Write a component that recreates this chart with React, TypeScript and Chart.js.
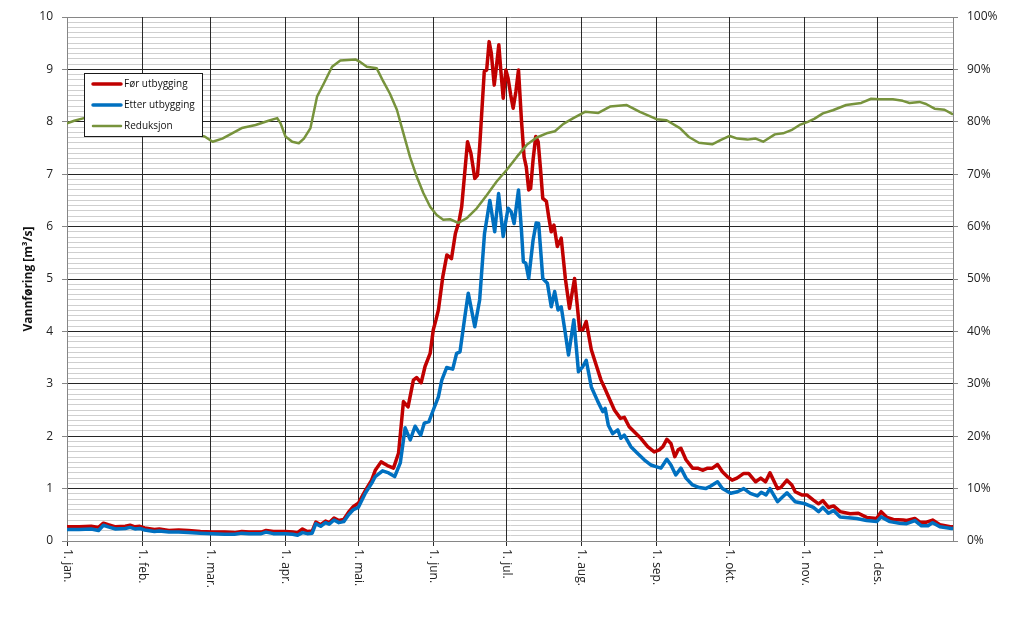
import { useEffect, useRef } from 'react';
import { Chart, registerables } from 'chart.js';

Chart.register(...registerables);

// ---- Axis / category data ----
const MONTH_DAYS = [0, 31, 59, 90, 120, 151, 181, 212, 243, 273, 304, 334];
const MONTH_LABELS = ['1. jan.', '1. feb.', '1. mar.', '1. apr.', '1. mai.', '1. jun.', '1. jul.', '1. aug.', '1. sep.', '1. okt.', '1. nov.', '1. des.'];
const Y_MAX = 10;
const Y_MINOR_STEP = 0.1;
const Y2_MAX = 100;
const Y2_STEP = 10;

const SERIES_NAMES = ['Før utbygging', 'Etter utbygging', 'Reduksjon'];
const Y_TITLE = 'Vannføring [m³/s]';

// ---- Før utbygging (m3/s) ----
const FOR_DAYS = [0, 5, 10, 13, 15, 17, 20, 24, 26, 28, 30, 32, 36, 38, 42, 46, 50, 55, 60, 65, 69, 72, 75, 80, 82, 85, 90, 93, 95, 97, 99, 101, 102.5, 104.5, 106.5, 108, 110, 112, 114, 116, 118, 120, 123, 125.5, 127, 129.4, 132, 134.5, 136.6, 138.6, 140.5, 142.7, 144, 145.9, 147.5, 149.6, 150.9, 152, 153, 154.8, 156.5, 158.4, 160, 161.5, 162.6, 165, 166.4, 168, 169.1, 170, 171.9, 172.9, 173.9, 174.8, 176, 176.9, 177.9, 178.7, 179.7, 180.8, 181.7, 182.8, 183.8, 184.9, 186, 187.2, 188.3, 189.2, 190.2, 191, 192, 193.1, 194.1, 195.1, 196, 197.5, 198.4, 199.5, 200.6, 202, 203.6, 205.3, 207, 209.1, 211.2, 212.5, 213.9, 216, 218, 220, 221.4, 223.4, 225.5, 228, 229.6, 231.6, 234.4, 236.4, 239.2, 241.9, 244, 245.5, 247.1, 248.8, 250.4, 251.8, 252.9, 255, 257.7, 259.8, 261.8, 263.9, 265.9, 268, 270, 272, 274, 276, 278.8, 280.8, 283.7, 285.8, 287.8, 289.6, 292.7, 294, 296.6, 298.6, 300, 302.7, 304.8, 307.5, 309.6, 311.4, 313.7, 315.8, 318.5, 322.6, 326, 329.4, 333.6, 335.4, 337.8, 340.4, 344.5, 345.9, 349.3, 351.4, 354.1, 356.6, 359.6, 364.4, 365];
const FOR_VALUES = [0.27, 0.27, 0.28, 0.26, 0.34, 0.31, 0.27, 0.28, 0.3, 0.27, 0.28, 0.25, 0.22, 0.23, 0.2, 0.21, 0.2, 0.18, 0.17, 0.17, 0.16, 0.18, 0.17, 0.17, 0.2, 0.18, 0.18, 0.17, 0.16, 0.23, 0.18, 0.19, 0.36, 0.31, 0.38, 0.35, 0.44, 0.39, 0.41, 0.55, 0.66, 0.72, 0.97, 1.16, 1.35, 1.51, 1.44, 1.39, 1.68, 2.66, 2.56, 3.07, 3.12, 3.02, 3.33, 3.58, 4.03, 4.22, 4.41, 5.04, 5.46, 5.39, 5.87, 6.1, 6.38, 7.62, 7.4, 6.92, 6.98, 7.52, 8.96, 8.99, 9.53, 9.31, 8.7, 9.05, 9.47, 8.99, 8.45, 8.99, 8.83, 8.51, 8.26, 8.57, 8.99, 8.04, 7.33, 7.14, 6.7, 6.73, 7.27, 7.72, 7.62, 7.08, 6.54, 6.48, 6.2, 5.9, 6.03, 5.62, 5.78, 5.01, 4.44, 5.01, 4.03, 4.03, 4.19, 3.65, 3.36, 3.07, 2.93, 2.72, 2.5, 2.34, 2.36, 2.18, 2.05, 1.96, 1.8, 1.7, 1.74, 1.8, 1.94, 1.86, 1.61, 1.74, 1.77, 1.55, 1.39, 1.39, 1.35, 1.39, 1.39, 1.46, 1.32, 1.23, 1.16, 1.2, 1.29, 1.29, 1.13, 1.2, 1.13, 1.3, 1.0, 1.02, 1.16, 1.07, 0.94, 0.88, 0.88, 0.78, 0.71, 0.77, 0.64, 0.67, 0.56, 0.52, 0.53, 0.45, 0.43, 0.56, 0.45, 0.41, 0.4, 0.39, 0.43, 0.36, 0.36, 0.4, 0.31, 0.27, 0.27];

// ---- Etter utbygging (m3/s) ----
const ETTER_DAYS = [0, 5, 10, 13, 15, 17, 20, 24, 26, 28, 30, 32, 36, 38, 42, 46, 50, 55, 60, 65, 69, 72, 75, 80, 82, 85, 90, 93, 95, 97, 99, 101, 102.5, 104.5, 106.5, 108, 110, 112, 114, 116, 118, 120, 123, 125.5, 127, 130, 132.5, 135, 137.3, 139.3, 141.4, 143.4, 145.7, 147.2, 149.1, 150.9, 153, 154.4, 156.4, 158.9, 160.5, 161.9, 163.9, 165.3, 168, 170, 172, 174.2, 176.2, 177.8, 179.7, 181.7, 183, 184.2, 186, 187.2, 188, 189, 190.2, 192, 193.3, 194.3, 196, 197.9, 199.5, 200.9, 202.3, 203.6, 205.3, 206.6, 208.8, 210.7, 212.5, 213.9, 216, 218.7, 220.7, 221.7, 223, 224.8, 226.9, 228.2, 229.6, 232.3, 235.1, 237.8, 240.6, 242.6, 244.7, 247.1, 248.8, 250.8, 252.9, 255, 257.7, 260.5, 263.1, 265.2, 268, 270, 273.4, 276.2, 278.8, 281.5, 284.4, 286, 288, 289.6, 292.7, 296.6, 300, 304.1, 307.5, 309.6, 311.4, 313.7, 315.8, 318.5, 325.3, 329.4, 333.6, 335.4, 339, 343, 345.9, 349.3, 352, 354.7, 356.6, 359.6, 364.4, 365];
const ETTER_VALUES = [0.22, 0.22, 0.23, 0.2, 0.3, 0.27, 0.23, 0.24, 0.26, 0.23, 0.24, 0.21, 0.18, 0.19, 0.17, 0.17, 0.16, 0.15, 0.14, 0.13, 0.13, 0.15, 0.14, 0.14, 0.17, 0.14, 0.14, 0.13, 0.11, 0.16, 0.14, 0.15, 0.33, 0.28, 0.35, 0.32, 0.4, 0.35, 0.37, 0.5, 0.6, 0.64, 0.92, 1.1, 1.23, 1.34, 1.3, 1.23, 1.49, 2.16, 1.93, 2.19, 2.02, 2.25, 2.28, 2.5, 2.75, 3.07, 3.31, 3.28, 3.58, 3.61, 4.28, 4.73, 4.09, 4.6, 5.87, 6.5, 5.9, 6.63, 5.81, 6.35, 6.28, 6.06, 6.7, 5.94, 5.33, 5.3, 5.01, 5.74, 6.07, 6.06, 5.01, 4.92, 4.47, 4.76, 4.41, 4.47, 3.96, 3.55, 4.22, 3.23, 3.33, 3.45, 2.94, 2.66, 2.47, 2.53, 2.21, 2.05, 2.12, 1.96, 2.02, 1.8, 1.67, 1.55, 1.45, 1.42, 1.39, 1.56, 1.45, 1.26, 1.39, 1.2, 1.07, 1.02, 1.0, 1.05, 1.13, 1.0, 0.91, 0.94, 1.0, 0.91, 0.86, 0.93, 0.88, 1.0, 0.75, 0.92, 0.75, 0.71, 0.64, 0.56, 0.64, 0.53, 0.58, 0.46, 0.43, 0.39, 0.37, 0.46, 0.37, 0.34, 0.33, 0.39, 0.29, 0.29, 0.35, 0.27, 0.24, 0.24];

// ---- Reduksjon (%) ----
const RED_DAYS = [0, 3, 7, 12, 20, 30, 40, 50, 56.7, 60, 64, 68, 72, 77.7, 83, 86.6, 88, 90, 92.8, 95.5, 97.6, 100.3, 103, 105.8, 109.2, 112.6, 118.8, 120.5, 123.5, 127.6, 130.3, 133, 135.9, 138.6, 141.3, 144.1, 146.8, 149.6, 152.3, 155, 157.8, 161.2, 164.7, 168.8, 172.9, 177, 181.1, 185.3, 189.4, 193.5, 197.6, 201, 204.5, 208.6, 213.4, 218.9, 223.7, 230.6, 236, 242.9, 247, 252.5, 256.2, 260.3, 265.8, 269.2, 273, 276.2, 280.3, 283.7, 286.8, 291.6, 295, 298.4, 301.8, 305.2, 308, 311.4, 315.5, 321, 327.2, 331.3, 334.7, 340.2, 344.3, 347.1, 351.2, 353.9, 357.4, 361.5, 364.6];
const RED_VALUES = [79.7, 80.2, 80.7, 80.8, 80.3, 79.5, 78.8, 77.8, 77.2, 76.2, 76.8, 77.8, 78.8, 79.4, 80.2, 80.7, 79.7, 77.2, 76.2, 75.9, 76.8, 78.8, 84.8, 87.3, 90.5, 91.7, 91.9, 91.5, 90.5, 90.2, 87.7, 85.4, 82.3, 77.8, 73.3, 69.5, 66.4, 63.8, 62.2, 61.3, 61.4, 60.7, 61.6, 63.5, 66, 68.6, 70.8, 73.3, 75.6, 77, 77.8, 78.2, 79.6, 80.7, 81.9, 81.7, 82.9, 83.2, 81.9, 80.5, 80.3, 78.8, 77.1, 76, 75.7, 76.5, 77.3, 76.8, 76.6, 76.8, 76.2, 77.6, 77.8, 78.4, 79.4, 80, 80.6, 81.6, 82.2, 83.2, 83.6, 84.4, 84.3, 84.3, 84, 83.6, 83.8, 83.4, 82.5, 82.3, 81.5];

const FONT = "'Open Sans', sans-serif";
const isMajor = (v: number) => Math.abs(v - Math.round(v)) < 1e-9;
const toPoints = (xs: number[], ys: number[]) => xs.map((x, i) => ({ x, y: ys[i] }));

const boxLegend = {
  id: 'boxLegend',
  afterDatasetsDraw(chart: any) {
    const { ctx } = chart;
    const x = 84.5, y = 73.5, w = 118, h = 63;
    ctx.save();
    ctx.fillStyle = '#ffffff';
    ctx.fillRect(x, y, w, h);
    ctx.strokeStyle = '#1a1a1a';
    ctx.lineWidth = 1;
    ctx.strokeRect(x, y, w, h);
    ctx.font = `10px ${FONT}`;
    ctx.textBaseline = 'middle';
    ctx.textAlign = 'left';
    chart.data.datasets.forEach((ds: any, i: number) => {
      const cy = 84 + i * 21;
      ctx.strokeStyle = ds.borderColor;
      ctx.lineWidth = ds.borderWidth;
      ctx.lineCap = 'round';
      ctx.beginPath();
      ctx.moveTo(93, cy);
      ctx.lineTo(121, cy);
      ctx.stroke();
      ctx.fillStyle = '#111111';
      ctx.fillText(ds.label, 124, cy);
    });
    ctx.restore();
  },
};

const verticalXLabels = {
  id: 'verticalXLabels',
  afterDraw(chart: any) {
    const { ctx } = chart;
    const xs = chart.scales.x;
    ctx.save();
    ctx.font = `12px ${FONT}`;
    ctx.fillStyle = '#222222';
    ctx.textAlign = 'left';
    ctx.textBaseline = 'middle';
    MONTH_DAYS.forEach((d, i) => {
      const px = xs.getPixelForValue(d);
      ctx.save();
      ctx.translate(px, chart.chartArea.bottom + 8);
      ctx.rotate(Math.PI / 2);
      ctx.fillText(MONTH_LABELS[i], 0, 0);
      ctx.restore();
    });
    ctx.restore();
  },
};

export default function App() {
  const ref = useRef<HTMLCanvasElement | null>(null);

  useEffect(() => {
    if (!ref.current) return;
    const chart = new Chart(ref.current, {
      type: 'line',
      data: {
        datasets: [
          {
            label: SERIES_NAMES[0],
            data: toPoints(FOR_DAYS, FOR_VALUES),
            borderColor: '#c00000',
            borderWidth: 3.5,
            pointRadius: 0,
            tension: 0,
            yAxisID: 'y',
            order: 3,
            borderJoinStyle: 'round',
            borderCapStyle: 'round',
          },
          {
            label: SERIES_NAMES[1],
            data: toPoints(ETTER_DAYS, ETTER_VALUES),
            borderColor: '#0070c0',
            borderWidth: 3.5,
            pointRadius: 0,
            tension: 0,
            yAxisID: 'y',
            order: 2,
            borderJoinStyle: 'round',
            borderCapStyle: 'round',
          },
          {
            label: SERIES_NAMES[2],
            data: toPoints(RED_DAYS, RED_VALUES),
            borderColor: '#77933c',
            borderWidth: 2.5,
            pointRadius: 0,
            tension: 0,
            yAxisID: 'y2',
            order: 1,
            borderJoinStyle: 'round',
            borderCapStyle: 'round',
          },
        ],
      },
      options: {
        animation: false,
        responsive: false,
        devicePixelRatio: 1,
        layout: { padding: { top: 17, left: 0, right: 0, bottom: 0 } },
        plugins: {
          legend: { display: false },
          tooltip: { enabled: false },
        },
        scales: {
          x: {
            type: 'linear',
            min: 0,
            max: 365,
            afterBuildTicks: (scale: any) => {
              scale.ticks = MONTH_DAYS.map((v) => ({ value: v }));
            },
            afterFit: (scale: any) => {
              scale.height = 79;
            },
            ticks: { display: false },
            grid: {
              color: (c: any) => (c.tick && c.tick.value === 0 ? '#868686' : '#2a2a2a'),
              lineWidth: 1,
              tickLength: 5,
              tickColor: '#2a2a2a',
            },
            border: { color: '#868686', width: 1 },
          },
          y: {
            type: 'linear',
            position: 'left',
            min: 0,
            max: Y_MAX,
            afterBuildTicks: (scale: any) => {
              const n = Math.round(Y_MAX / Y_MINOR_STEP);
              scale.ticks = Array.from({ length: n + 1 }, (_, i) => ({ value: i / 10 }));
            },
            afterFit: (scale: any) => {
              scale.width = 67;
            },
            ticks: {
              autoSkip: false,
              padding: 9,
              color: '#222222',
              font: { family: FONT, size: 12 },
              callback: (v: any) => (isMajor(Number(v)) ? String(Math.round(Number(v))) : ''),
            },
            grid: {
              z: -2,
              color: (c: any) => {
                const v = c.tick ? c.tick.value : 0;
                if (!isMajor(v)) return '#cfcfcf';
                if (Math.round(v) === 0 || Math.round(v) === Y_MAX) return '#868686';
                return '#262626';
              },
              lineWidth: 1,
              tickLength: 5,
              tickColor: (c: any) => (c.tick && isMajor(c.tick.value) ? '#868686' : 'rgba(0,0,0,0)'),
            },
            border: { color: '#868686', width: 1 },
            title: {
              display: true,
              text: Y_TITLE,
              color: '#111111',
              font: { family: FONT, size: 12, weight: 'bold' },
              padding: { top: 21, bottom: 0 },
            },
          },
          y2: {
            type: 'linear',
            position: 'right',
            min: 0,
            max: Y2_MAX,
            afterFit: (scale: any) => {
              scale.width = 71;
            },
            ticks: {
              stepSize: Y2_STEP,
              autoSkip: false,
              padding: 9,
              color: '#222222',
              font: { family: FONT, size: 12 },
              callback: (v: any) => `${v}%`,
            },
            grid: {
              drawOnChartArea: false,
              tickLength: 5,
              tickColor: '#868686',
            },
            border: { color: '#868686', width: 1 },
          },
        },
      },
      plugins: [boxLegend, verticalXLabels],
    } as any);
    return () => chart.destroy();
  }, []);

  return (
    <div style={{ position: 'absolute', left: 0, top: 0, width: 1024, height: 620, background: '#ffffff' }}>
      <canvas ref={ref} width={1024} height={620} style={{ display: 'block' }} />
    </div>
  );
}
